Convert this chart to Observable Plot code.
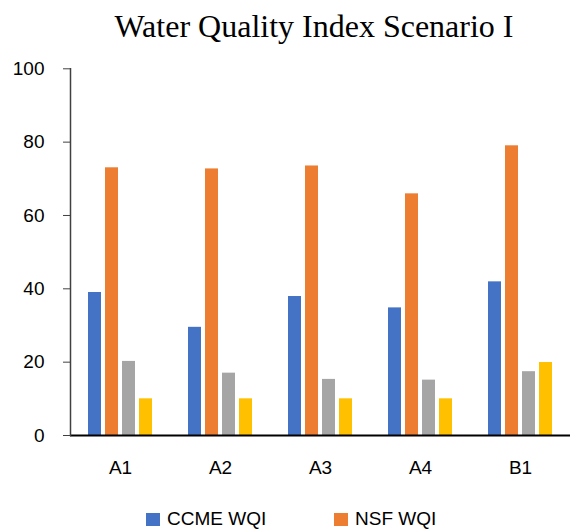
<!DOCTYPE html>
<html>
<head>
<meta charset="utf-8">
<script src="https://cdn.jsdelivr.net/npm/d3@7"></script>
<script src="https://cdn.jsdelivr.net/npm/@observablehq/plot@0.6"></script>
<style>
  html, body { margin: 0; padding: 0; background: #fff; }
  #wrap { width: 571px; height: 529px; overflow: hidden; position: relative; }
  #title { font-family: "Liberation Serif", "Times New Roman", serif; font-size: 32px; line-height: 32px;
           height: 40px; padding-top: 10px; text-align: center; padding-left: 57px; color: #000; white-space: nowrap; }
  #legend { display: flex; flex-wrap: wrap; padding-left: 146px; margin-top: 29px; width: 425px;
            font-family: "Liberation Sans", Arial, sans-serif; font-size: 19px; line-height: 20px; color: #000; }
  .item { width: 188px; display: flex; align-items: flex-start; }
  .sw { width: 14px; height: 13px; margin-top: 4px; margin-right: 7px; flex: none; }
  svg { display: block; }
</style>
</head>
<body>
<div id="wrap">
  <div id="title"></div>
  <div id="chart"></div>
  <div id="legend"></div>
</div>
<script>
const titleText = "Water Quality Index Scenario I";
const sites = ["A1", "A2", "A3", "A4", "B1"];
const seriesNames = ["CCME WQI", "NSF WQI", "Series 3", "Series 4"];
const seriesColors = ["#4472C4", "#ED7D31", "#A5A5A5", "#FFC000"];
const ccme = [39, 29.5, 37.9, 34.8, 41.9];
const nsf = [73, 72.7, 73.5, 65.9, 79];
const series3 = [20.2, 17, 15.3, 15.1, 17.4];
const series4 = [10, 10, 10, 10, 19.9];
const yTicks = [0, 20, 40, 60, 80, 100];

const valuesBySeries = [ccme, nsf, series3, series4];
const data = [];
sites.forEach((s, i) => {
  seriesNames.forEach((n, j) => data.push({site: s, series: n, value: valuesBySeries[j][i]}));
});

document.getElementById("title").textContent = titleText;

const chart = Plot.plot({
  width: 571,
  height: 430,
  marginLeft: 70,
  marginRight: 1,
  marginTop: 18.3,
  marginBottom: 45,
  style: {fontFamily: "Liberation Sans, Arial, sans-serif", fontSize: "19px", color: "#000", background: "#fff"},
  fx: {domain: sites, padding: 0, label: null},
  x: {domain: seriesNames, paddingInner: 0.222, paddingOuter: 0.889, axis: null},
  y: {domain: [0, 100], label: null},
  color: {domain: seriesNames, range: seriesColors},
  marks: [
    Plot.barY(data, {fx: "site", x: "series", y: "value", fill: "series"}),
    Plot.ruleY([0], {stroke: "#000", strokeWidth: 2}),
    Plot.frame({anchor: "left", facetAnchor: "left", stroke: "#404040", strokeWidth: 1.5}),
    Plot.axisY({ticks: yTicks, tickSize: 7, tickPadding: 19, stroke: "#404040", label: null, fontSize: 19}),
    Plot.axisFx({anchor: "bottom", tickSize: 0, tickPadding: 25, label: null, fontSize: 19})
  ]
});
document.getElementById("chart").appendChild(chart);

const legend = document.getElementById("legend");
seriesNames.forEach((n, i) => {
  const item = document.createElement("div");
  item.className = "item";
  const sw = document.createElement("span");
  sw.className = "sw";
  sw.style.background = seriesColors[i];
  const lab = document.createElement("span");
  lab.textContent = n;
  item.appendChild(sw);
  item.appendChild(lab);
  legend.appendChild(item);
});
</script>
</body>
</html>
